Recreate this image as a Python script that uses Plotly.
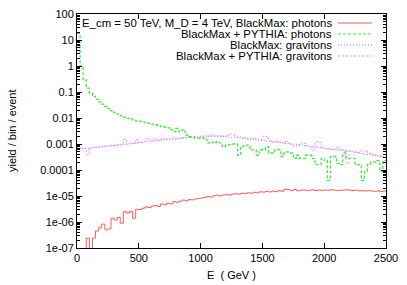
import numpy as np
import plotly.graph_objects as go

# ---- data (25 GeV bins, 0..2500 GeV) ----
bin_width = 25
bin_edges = np.arange(0, 2500 + bin_width, bin_width)

blackmax_photons = [
    1e-9, 1e-9, 9e-8, 2.4e-7, 9e-8, 2.4e-7, 4.5e-7, 6.0e-7, 8.3e-7, 5.0e-7,
    5.5e-7, 1.4e-6, 1.2e-6, 1.5e-6, 9e-7, 2.5e-6, 2.2e-6, 2.5e-6, 1.4e-6, 3.1e-6,
    3.0e-6, 3.4e-6, 3.8e-6, 3.6e-6, 4.1e-6, 4.3e-6, 4.0e-6, 4.9e-6, 4.6e-6, 5.3e-6,
    5.0e-6, 6.1e-6, 5.7e-6, 6.3e-6, 7.0e-6, 6.5e-6, 7.3e-6, 7.1e-6, 7.7e-6, 8.1e-6,
    8.4e-6, 8.9e-6, 9.5e-6, 9.1e-6, 1.02e-5, 1.07e-5, 1.01e-5, 1.1e-5, 1.13e-5, 1.08e-5,
    1.18e-5, 1.22e-5, 1.17e-5, 1.27e-5, 1.24e-5, 1.32e-5, 1.29e-5, 1.38e-5, 1.33e-5, 1.45e-5,
    1.41e-5, 1.5e-5, 1.44e-5, 1.55e-5, 1.48e-5, 1.6e-5, 1.52e-5, 1.82e-5, 1.75e-5, 1.62e-5,
    1.78e-5, 1.58e-5, 1.66e-5, 1.72e-5, 1.6e-5, 1.68e-5, 1.74e-5, 1.62e-5, 1.7e-5, 1.64e-5,
    1.7e-5, 1.66e-5, 1.73e-5, 1.68e-5, 1.62e-5, 1.65e-5, 1.7e-5, 1.72e-5, 1.67e-5, 1.63e-5,
    1.69e-5, 1.58e-5, 1.6e-5, 1.56e-5, 1.6e-5, 1.55e-5, 1.52e-5, 1.57e-5, 1.5e-5, 1.55e-5,
]

pythia_photons = [
    18, 1.0, 0.3, 0.14, 0.09, 0.068, 0.052, 0.042, 0.034, 0.028,
    0.023, 0.019, 0.016, 0.014, 0.012, 0.0108, 0.0097, 0.009, 0.0083, 0.0078,
    0.0074, 0.0070, 0.0066, 0.0062, 0.0058, 0.0055, 0.0051, 0.0047, 0.0045, 0.0042,
    0.0035, 0.003, 0.004, 0.003, 0.0035, 0.0022, 0.0019, 0.0019, 0.0017, 0.0017,
    0.0017, 0.0016, 0.0011, 0.0012, 0.0011, 0.0012, 0.0011, 0.00079, 0.0009, 0.00095,
    0.001, 0.001, 0.00037, 0.0008, 0.0009, 0.0009, 0.00059, 0.00059, 0.00037, 0.0006,
    0.0006, 0.0008, 0.00045, 0.00045, 0.0006, 0.0006, 0.00033, 0.0005, 0.0005, 0.00045,
    0.00028, 0.00037, 0.00028, 0.00028, 0.00037, 0.00037, 0.00028, 0.00016, 0.00016, 0.00028,
    0.00023, 0.00004, 0.00033, 0.00033, 0.00018, 0.00016, 0.00045, 0.0003, 0.00028, 0.00028,
    0.00016, 0.00016, 0.00004, 0.000087, 0.00016, 0.0002, 0.0002, 0.00023, 0.000087, 0.00023,
]

blackmax_gravitons = [
    0.00068, 0.00066, 0.00069, 0.00070, 0.00072, 0.00073, 0.00075, 0.00076, 0.00079, 0.00080,
    0.00083, 0.00085, 0.00087, 0.00091, 0.00093, 0.00097, 0.00099, 0.00103, 0.00105, 0.00109,
    0.00113, 0.00116, 0.00121, 0.00124, 0.00129, 0.00132, 0.00137, 0.00140, 0.00145, 0.00148,
    0.00153, 0.00156, 0.00161, 0.00164, 0.00169, 0.00172, 0.00177, 0.00180, 0.00184, 0.00186,
    0.00190, 0.00192, 0.00196, 0.00197, 0.00199, 0.00197, 0.00196, 0.00192, 0.00189, 0.00184,
    0.00180, 0.00174, 0.00170, 0.00164, 0.00160, 0.00154, 0.00150, 0.00145, 0.00141, 0.00136,
    0.00133, 0.00128, 0.00125, 0.00120, 0.00117, 0.00112, 0.00109, 0.00105, 0.00103, 0.00099,
    0.00097, 0.00093, 0.00091, 0.00087, 0.00085, 0.00081, 0.00079, 0.00075, 0.00073, 0.00069,
    0.00067, 0.00064, 0.00063, 0.00060, 0.00059, 0.00056, 0.00055, 0.00052, 0.00051, 0.00048,
    0.00047, 0.00044, 0.00043, 0.00040, 0.00039, 0.00037, 0.00036, 0.00034, 0.00033, 0.00031,
]

pythia_gravitons = [
    0.00072, 0.00070, 0.00068, 0.00038, 0.00070, 0.00074, 0.00072, 0.00080, 0.00078, 0.00085,
    0.00082, 0.00090, 0.00088, 0.00095, 0.00092, 0.00150, 0.00098, 0.00110, 0.00105, 0.00150,
    0.00115, 0.00120, 0.00160, 0.00150, 0.00135, 0.00160, 0.00145, 0.00155, 0.00170, 0.00150,
    0.00165, 0.00175, 0.00160, 0.00180, 0.00170, 0.00185, 0.00200, 0.00180, 0.00190, 0.00205,
    0.00190, 0.00210, 0.00200, 0.00230, 0.00205, 0.00215, 0.00200, 0.00210, 0.00200, 0.00240,
    0.00240, 0.00200, 0.00195, 0.00180, 0.00175, 0.00170, 0.00170, 0.00165, 0.00155, 0.00150,
    0.00200, 0.00195, 0.00140, 0.00120, 0.00125, 0.00118, 0.00112, 0.00125, 0.00110, 0.00100,
    0.00080, 0.00085, 0.00110, 0.00105, 0.00085, 0.00080, 0.00055, 0.00120, 0.00115, 0.00070,
    0.00065, 0.00068, 0.00060, 0.00062, 0.00075, 0.00065, 0.00058, 0.00018, 0.00055, 0.00052,
    0.00050, 0.00048, 0.00058, 0.00055, 0.00045, 0.00042, 0.00038, 0.00036, 0.00032, 0.00040,
]

series_names = [
    "E_cm = 50 TeV, M_D = 4 TeV, BlackMax: photons",
    "BlackMax + PYTHIA: photons",
    "BlackMax: gravitons",
    "BlackMax + PYTHIA: gravitons",
]
x_title = "E  ( GeV )"
y_title = "yield / bin / event"

ytick_vals = [100, 10, 1, 0.1, 0.01, 0.001, 0.0001, 1e-5, 1e-6, 1e-7]
ytick_text = ["100", "10", "1", "0.1", "0.01", "0.001", "0.0001", "1e-05", "1e-06", "1e-07"]
xtick_vals = [0, 500, 1000, 1500, 2000, 2500]

# ---- styles / layout geometry (pixels) ----
colors = ["#ff5a5a", "#3ee83e", "#7a7aff", "#ff85ff"]
dashes = ["solid", "3px,2px", "1px,2px", "2px,2px"]
widths = [1, 1.3, 1, 1]
FONT = "Liberation Sans, Arial, Helvetica, sans-serif"
W, H = 407, 285
L, R, T, B = 77, 386, 14, 248   # plot area edges in pixels
PW, PH = R - L, B - T


def px(xp):
    return (xp - L) / PW


def py(yp):
    return (B - yp) / PH


fig = go.Figure()
series = [blackmax_photons, pythia_photons, blackmax_gravitons, pythia_gravitons]
draw_order = [2, 3, 1, 0]
for i in draw_order:
    vals = list(series[i]) + [series[i][-1]]
    fig.add_trace(go.Scatter(
        x=bin_edges, y=vals, mode="lines", line_shape="hv",
        line=dict(color=colors[i], width=widths[i], dash=dashes[i], simplify=False),
        name=series_names[i], showlegend=False, hoverinfo="skip",
    ))

# manual gnuplot-style legend (text right aligned, sample line at right)
leg_rows = [23, 34, 45, 56]
for i, name in enumerate(series_names):
    fig.add_annotation(x=px(334), y=py(leg_rows[i]), xref="paper", yref="paper",
                       text=name, showarrow=False, xanchor="right", yanchor="middle",
                       font=dict(family=FONT, size=11.4, color="black"))
    fig.add_shape(type="line", xref="paper", yref="paper",
                  x0=px(338), x1=px(372), y0=py(leg_rows[i]), y1=py(leg_rows[i]),
                  line=dict(color=colors[i], width=1, dash=dashes[i]))

# axis titles
fig.add_annotation(x=px(12), y=0.5, xref="paper", yref="paper", text=y_title,
                   textangle=-90, showarrow=False, xanchor="center", yanchor="middle",
                   font=dict(family=FONT, size=11, color="black"))
fig.add_annotation(x=px(231), y=py(275), xref="paper", yref="paper", text=x_title,
                   showarrow=False, xanchor="center", yanchor="middle",
                   font=dict(family=FONT, size=11, color="black"))

axis_common = dict(
    showline=True, linecolor="black", linewidth=1, mirror="allticks",
    ticks="inside", ticklen=5, tickcolor="black", showgrid=False, zeroline=False,
    automargin=False,
    tickfont=dict(family=FONT, size=11, color="black"),
)

fig.update_xaxes(range=[0, 2500], tickvals=xtick_vals, **axis_common)
fig.update_yaxes(type="log", range=[-7, 2], tickvals=ytick_vals, ticktext=ytick_text,
                 minor=dict(ticks="inside", ticklen=3, tickcolor="black", dtick="D1", showgrid=False),
                 **axis_common)

fig.update_layout(
    width=W, height=H,
    margin=dict(l=L, r=W - R, t=T, b=H - B, autoexpand=False),
    paper_bgcolor="white", plot_bgcolor="white",
    showlegend=False,
)

fig.write_html("out.html", config={"displayModeBar": False},
               post_script="document.body.style.margin='0';document.body.style.padding='0';document.body.style.overflow='hidden';")
